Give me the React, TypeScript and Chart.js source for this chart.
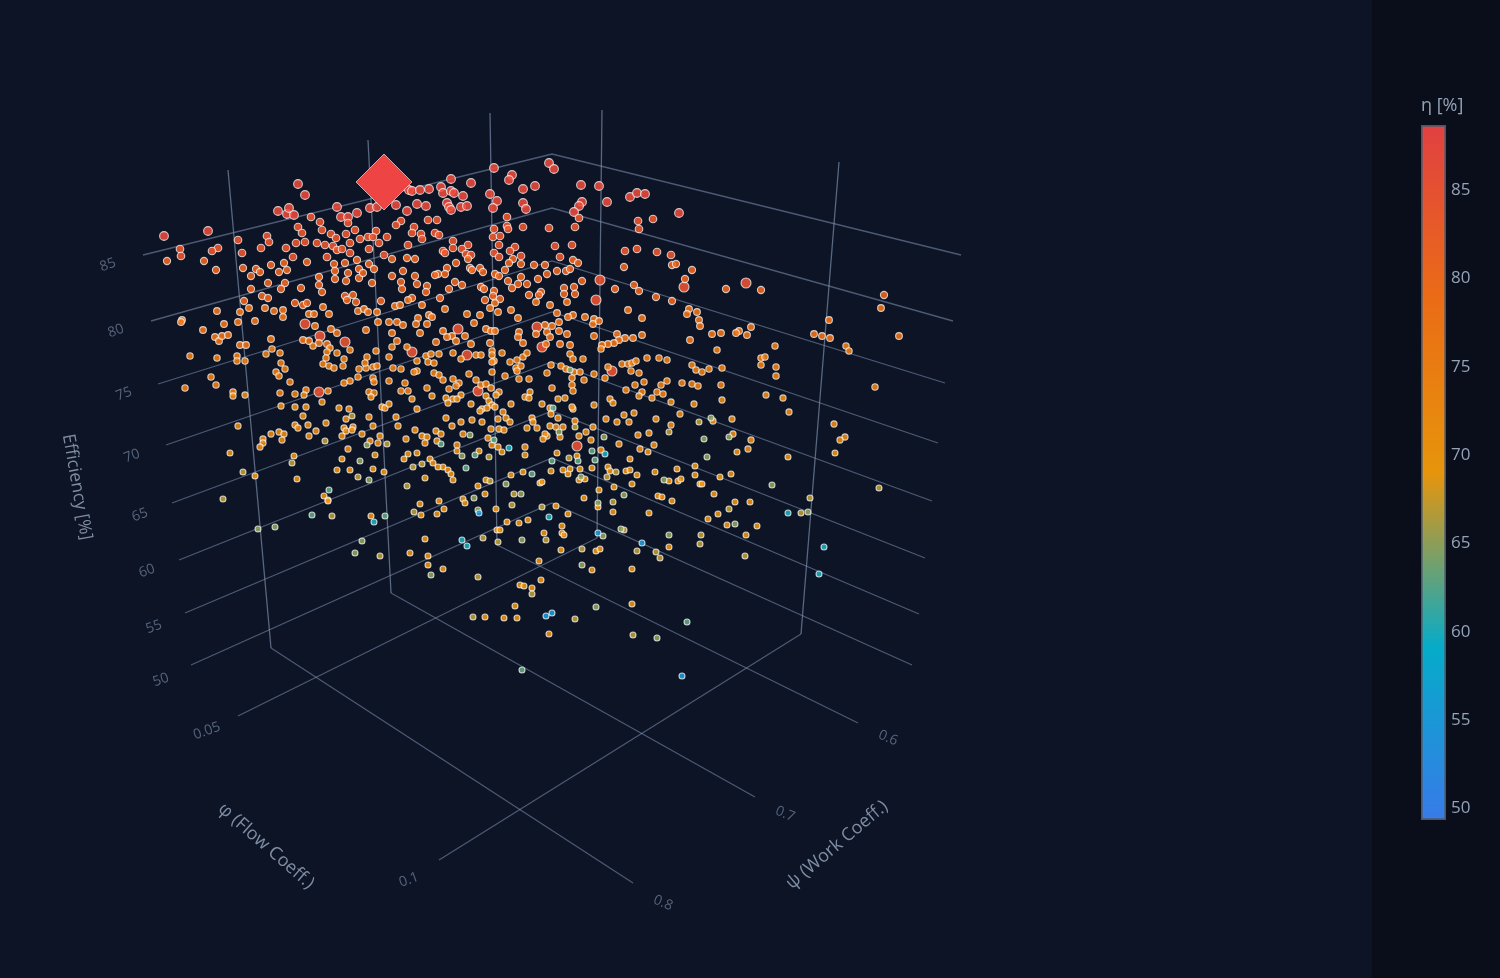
import React, { useEffect, useRef } from "react";
import { Chart, registerables } from "chart.js";

Chart.register(...registerables);

const bandEta = [85, 87, 84, 81, 78, 75, 72.5, 70.5, 67, 65, 63, 60, 55];
const bandRadius = [5, 4.4, 3.8, 3.6, 3.4, 3.2, 3.1, 3, 3, 3, 3, 3, 3];

const bandBig = [305,324,320,336,345,342,458,329,478,391,467,355,537,327,542,347,612,371,577,446,746,283,684,287,600,280,596,300,319,392,412,352];
const band87 = [298,184,305,195,164,236,208,231,278,211,287,214,289,208,294,215,337,207,357,213,341,217,348,217,370,208,377,207,396,205,407,211,409,190,494,168,512,175,509,180,549,163,554,169,451,179,471,183,535,186,581,185,599,186,412,191,420,190,429,189,441,187,443,193,451,191,454,193,463,196,490,194,497,201,523,189,523,203,526,209,493,208,417,204,426,206,447,203,449,207,451,210,461,207,467,206,582,202,579,206,607,202,630,197,637,193,645,194,679,213,574,212];
const band85 = [238,240,242,253,218,248,212,251,180,249,181,256,311,217,298,227,302,233,305,242,296,243,286,248,267,236,269,242,261,248,293,257,320,222,322,230,331,234,336,238,346,234,355,230,360,239,317,243,325,245,333,246,337,250,342,249,350,243,368,237,376,231,373,237,387,237,379,243,369,249,350,253,327,257,384,255,401,221,396,225,408,245,348,223,579,218,507,217,428,220,437,220,414,227,494,229,507,226,508,229,523,227,549,228,575,227,638,221,653,219,639,229,421,234,422,239,435,233,439,235,493,237,500,236,412,233,453,241,453,248,468,245,462,249,499,245,515,247,510,251,555,246,572,245,443,251,445,253,466,254,471,255,494,253,521,256,560,257,499,257,625,251,637,249,657,252,671,255];
const band83 = [167,261,204,261,216,270,243,268,251,276,251,289,244,301,307,262,284,263,271,265,256,269,260,272,279,272,287,270,268,283,285,283,281,289,301,288,262,296,268,298,295,303,303,305,307,303,334,264,345,263,357,260,369,264,374,269,359,269,348,273,335,271,335,279,319,277,319,285,322,292,346,281,359,278,363,273,372,283,392,276,401,282,402,289,353,295,345,296,347,300,356,302,381,301,403,271,407,258,392,259,468,259,513,259,509,263,521,264,573,260,578,263,415,259,456,263,672,265,676,264,624,267,534,265,545,265,447,268,438,274,435,275,445,274,470,268,472,270,480,268,483,272,505,270,495,274,499,276,557,271,547,274,566,271,570,269,521,277,415,276,582,281,538,279,508,281,518,284,527,284,512,288,417,284,455,282,462,285,427,286,426,292,449,289,481,287,484,289,494,291,493,296,564,288,574,287,634,285,615,289,639,291,541,292,539,295,564,294,575,294,529,295,656,297,672,301,440,298,412,298,485,300,500,299,692,270,685,279,726,289,761,290,884,295];
const band80 = [217,311,240,312,249,308,182,320,265,308,274,311,283,310,283,317,309,314,314,314,323,307,329,314,358,311,364,309,368,312,377,312,395,306,400,305,408,300,536,302,567,302,422,305,495,303,550,305,490,308,445,309,498,312,511,310,628,310,467,314,480,315,429,315,557,313,573,315,585,317,642,318,418,318,432,317,518,318,568,317,594,319,881,308,689,309,697,312,687,314,699,320,700,326,751,327,739,331,736,333,721,333,712,334,747,335,829,320,814,334,822,336,830,338,899,336,690,340,181,322,203,330,224,324,238,322,255,321,215,337,219,341,222,336,228,335,240,345,246,345,271,339,315,326,331,329,337,333,303,340,309,341,319,343,327,344,366,330,378,322,389,322,397,322,403,325,416,324,427,324,392,333,397,341,420,333,436,342,443,331,452,336,465,336,447,337,456,341,474,323,471,344,490,343,486,329,491,331,495,331,545,325,552,326,519,332,518,337,536,334,547,332,559,331,567,334,550,337,523,343,546,344,560,344,570,345,594,336,593,324,599,321,617,334,625,338,619,340,614,343,608,344,602,345,633,338,642,335,559,322];
const band77 = [190,356,217,358,237,356,237,361,245,361,266,354,272,349,280,353,281,363,285,369,276,372,279,376,211,377,185,388,216,385,233,392,290,382,280,393,295,394,306,390,328,391,313,346,330,348,350,350,327,352,337,353,326,358,344,359,323,364,329,366,334,368,343,366,359,369,366,368,367,357,365,363,373,367,377,366,376,351,389,357,393,368,401,369,392,347,407,347,417,361,426,356,431,354,439,354,428,362,434,363,417,371,414,372,434,373,439,375,358,377,350,381,344,383,373,378,374,382,389,381,405,383,369,392,374,393,401,391,408,391,427,388,453,353,461,359,476,355,481,355,492,351,502,353,492,355,494,361,492,362,510,362,517,360,523,357,527,353,516,368,521,366,517,371,519,379,529,379,505,376,492,372,469,374,443,380,453,379,459,383,449,389,456,386,476,380,481,385,486,384,491,388,499,392,551,365,547,373,561,366,566,369,574,372,580,372,594,374,570,354,573,359,583,359,601,349,647,358,659,358,667,360,622,364,628,364,632,363,636,361,608,367,631,371,639,373,692,365,696,370,702,372,709,369,605,378,584,380,572,378,572,385,644,382,635,385,667,381,661,385,682,383,692,384,698,386,552,388,573,391,626,390,642,392,657,392,663,394,717,350,775,346,846,346,849,351,761,358,765,357,722,368,761,365,776,367,776,376,721,385,875,387];
const band74 = [233,396,245,395,304,395,322,402,281,406,295,407,306,407,303,416,238,426,295,425,298,428,308,425,326,423,316,431,309,436,271,434,279,432,284,434,282,440,263,439,263,443,260,447,339,408,349,409,346,419,369,417,344,428,353,427,346,431,352,430,342,436,362,434,373,426,380,436,370,441,378,443,348,449,371,397,432,396,412,399,382,407,385,408,389,404,417,409,396,417,398,426,415,430,436,431,406,439,422,436,427,437,437,441,425,443,461,395,496,395,486,396,446,398,453,399,457,399,489,401,492,405,495,407,448,403,471,404,482,409,487,408,480,411,511,404,503,412,525,397,530,392,529,398,542,404,446,418,452,426,461,422,472,420,482,422,498,419,506,418,510,422,532,418,533,422,527,428,537,428,491,429,499,429,504,430,441,434,463,434,547,436,457,445,488,438,492,445,498,447,525,447,639,396,652,398,558,399,565,398,610,399,613,403,671,402,694,404,573,409,572,407,594,405,634,413,624,415,680,414,606,419,617,422,629,422,656,419,558,418,550,408,551,414,575,421,593,427,550,426,556,427,563,427,671,425,649,433,638,435,586,432,545,434,579,436,560,437,543,439,591,440,619,444,654,445,640,449,601,450,722,400,766,395,783,398,789,412,834,424,845,437,840,440,732,419,713,421,733,434,751,440,748,449];
const band71 = [457,451,479,451,502,452,525,455,443,467,448,470,451,474,453,480,486,480,511,475,523,472,478,486,540,483,542,482,485,494,463,499,230,453,294,456,255,476,297,479,342,459,375,455,337,470,350,470,373,469,384,472,324,496,328,500,430,459,433,463,417,453,408,454,404,459,438,467,425,478,648,452,557,453,577,456,630,459,695,466,580,469,551,471,563,470,570,469,592,468,568,474,608,467,610,471,626,471,630,470,655,472,677,469,637,475,695,475,579,480,585,479,669,481,678,481,681,479,700,484,632,484,614,487,599,490,584,498,658,496,662,497,835,453,737,452,788,457,731,474,720,477,702,484,714,494,735,502,750,502,718,514,708,519,727,525,757,526,746,535,328,501,371,516,410,553,428,556,428,565,443,569,425,539,420,504,439,501,444,509,437,514,421,515,465,503,485,617,496,509,556,506,598,507,568,514,507,522,519,523,528,520,613,512,649,513,672,501,562,526,497,530,500,530,544,533,562,533,564,535,669,547,561,550,596,551,600,549,539,561,592,570,632,569,541,580,520,585,524,586,532,588,515,606,632,604,504,618,517,618,549,634];
const band67 = [352,416,325,441,387,444,422,464,292,463,243,472,223,499,358,477,407,486,332,516,380,556,414,512,483,538,473,617,489,457,490,481,514,494,569,458,575,427,607,477,616,472,669,432,699,422,879,488,810,498,729,509,801,513,701,535,745,556,512,505,542,507,613,502,624,530,498,542,546,540,582,549,637,551,656,552,660,558,700,544,532,594,575,619,633,635,413,467,478,577];
const band65 = [367,445,360,461,369,480,470,435,462,456,258,529,275,527,362,541,355,553,431,575,478,510,506,484,521,494,474,498,570,370,604,437,704,439,707,457,559,432,581,477,664,480,624,495,711,418,729,437,772,485,808,512,735,524,598,503,603,536,621,529,669,535,522,540,582,565,596,607,657,638];
const band63 = [441,444,494,440,475,455,466,468,532,474,553,408,592,451,578,461,552,461,595,460,329,490,312,515,385,516,687,622,522,670];
const band60 = [509,448,605,454,549,517,374,522,462,540,467,546,788,513,824,547,819,574];
const band55 = [479,513,598,533,642,543,546,616,552,613,682,676];
const bandSeries = [bandBig, band87, band85, band83, band80, band77, band74, band71, band67, band65, band63, band60, band55];

const designPoint = [384, 182];

// Walls and floor of the 3-D box as seen on the view plane
const etaTicks = ["85", "80", "75", "70", "65", "60", "55", "50"];
const etaLabelX = [108, 116, 124, 132, 140, 147, 154, 161];
const etaLabelY = [265, 331, 394, 456, 515, 571, 627, 680];
const etaLeftX = [143, 151, 158, 166, 172, 179, 185, 191];
const etaLeftY = [255, 321, 384, 445, 503, 560, 613, 665];
const etaBackY = [154, 208, 261, 312, 362, 411, 458, 503];
const etaRightX = [961, 953, 945, 938, 932, 925, 919, 912];
const etaRightY = [255, 321, 383, 443, 501, 558, 614, 665];
const wallVerticals = [[228,170,271,648],[368,140,391,593],[490,113,497,545],[602,110,597,538],[839,162,801,634]];
const floorLines = [[271,648,633,883],[391,593,755,797],[497,545,858,723],[238,716,597,538],[439,860,801,634]];

const colorTicks = [50, 55, 60, 65, 70, 75, 80, 85];
const colorMin = 49.35;
const colorMax = 88.68;
const colorStops: [number, number[]][] = [
  [49.35, [59, 130, 246]],
  [59.1, [6, 182, 212]],
  [69, [245, 158, 11]],
  [78.8, [249, 115, 22]],
  [88.68, [239, 68, 68]],
];

const FONT = '"Open Sans", "Noto Sans", sans-serif';
const sceneTexts: [string, number, number, number, number, string][] = [
  ...etaTicks.map((t, i): [string, number, number, number, number, string] => [t, etaLabelX[i], etaLabelY[i], -20, 14, "#56657d"]),
  ["0.05", 207, 731, -20, 14, "#56657d"],
  ["0.1", 409, 880, -20, 14, "#56657d"],
  ["0.6", 888, 738, 22, 14, "#56657d"],
  ["0.7", 785, 814, 22, 14, "#56657d"],
  ["0.8", 663, 903, 22, 14, "#56657d"],
  ["Efficiency [%]", 77, 487, 80, 17.6, "#7f8da3"],
  ["φ (Flow Coeff.)", 266, 846, 41, 18, "#7f8da3"],
  ["ψ (Work Coeff.)", 837, 845, -40, 18, "#7f8da3"],
];

function colorFor(eta: number, alpha = 0.86) {
  for (let i = 1; i < colorStops.length; i++) {
    if (eta <= colorStops[i][0]) {
      const [a, ca] = colorStops[i - 1];
      const [b, cb] = colorStops[i];
      const t = Math.max(0, (eta - a) / (b - a));
      const c = ca.map((v, k) => Math.round(v + (cb[k] - v) * t));
      return `rgba(${c[0]},${c[1]},${c[2]},${alpha})`;
    }
  }
  return "rgba(239,68,68,1)";
}

function pairs(flat: number[]) {
  const out: { x: number; y: number }[] = [];
  for (let i = 0; i + 1 < flat.length; i += 2) out.push({ x: flat[i], y: flat[i + 1] });
  return out;
}

function lineSet(flat: number[], color: string) {
  return {
    type: "line" as const,
    data: pairs(flat),
    borderColor: color,
    borderWidth: 1.3,
    pointRadius: 0,
    fill: false,
    tension: 0,
    order: 50,
  };
}

const sceneTextPlugin = {
  id: "sceneText",
  afterDraw(chart: any) {
    const ctx = chart.ctx;
    for (const [text, x, y, rot, size, color] of sceneTexts) {
      ctx.save();
      ctx.translate(x, y);
      ctx.rotate((rot * Math.PI) / 180);
      ctx.font = `${size}px ${FONT}`;
      ctx.fillStyle = color;
      ctx.textAlign = "center";
      ctx.textBaseline = "middle";
      ctx.fillText(text, 0, 0);
      ctx.restore();
    }
  },
};

const barTitlePlugin = {
  id: "barTitle",
  afterDraw(chart: any) {
    const ctx = chart.ctx;
    ctx.save();
    ctx.font = `18px ${FONT}`;
    ctx.fillStyle = "#94a3b8";
    ctx.textAlign = "left";
    ctx.textBaseline = "middle";
    ctx.fillText("η [%]", 21, 16);
    ctx.restore();
  },
};

export default function App() {
  const sceneRef = useRef<HTMLCanvasElement>(null);
  const barRef = useRef<HTMLCanvasElement>(null);

  useEffect(() => {
    document.body.style.margin = "0";
    document.body.style.background = "#0c1426";

    const datasets: any[] = [];
    etaTicks.forEach((_, i) => {
      datasets.push(lineSet([etaLeftX[i], etaLeftY[i], 552, etaBackY[i], etaRightX[i], etaRightY[i]], "rgba(130,148,178,0.55)"));
    });
    wallVerticals.forEach((l) => datasets.push(lineSet(l, "rgba(130,148,178,0.65)")));
    floorLines.forEach((l) => datasets.push(lineSet(l, "rgba(130,148,178,0.55)")));
    bandSeries.forEach((flat, i) => {
      datasets.push({
        type: "scatter" as const,
        data: pairs(flat),
        backgroundColor: colorFor(bandEta[i]),
        borderColor: "rgba(255,255,255,0.72)",
        borderWidth: 1.1,
        pointRadius: bandRadius[i],
        order: 20 - i,
      });
    });
    datasets.push({
      type: "scatter" as const,
      data: pairs(designPoint),
      pointStyle: "rectRot",
      backgroundColor: "#ef4444",
      borderColor: "rgba(255,255,255,0.6)",
      borderWidth: 1,
      pointRadius: 28,
      order: 0,
    });

    const scene = new Chart(sceneRef.current!, {
      type: "scatter",
      data: { datasets },
      options: {
        animation: false,
        responsive: false,
        layout: { padding: 0, autoPadding: false },
        plugins: { legend: { display: false }, tooltip: { enabled: false } },
        scales: {
          x: { type: "linear", display: false, min: 0, max: 1500 },
          y: { type: "linear", display: false, min: 0, max: 978, reverse: true },
        },
      },
      plugins: [sceneTextPlugin],
    } as any);

    const bar = new Chart(barRef.current!, {
      type: "bar",
      data: {
        labels: ["η [%]"],
        datasets: [
          {
            data: [[colorMin, colorMax]],
            backgroundColor: (c: any) => {
              const area = c.chart.chartArea;
              if (!area) return "#f97316";
              const g = c.chart.ctx.createLinearGradient(0, area.bottom, 0, area.top);
              colorStops.forEach(([v]) => g.addColorStop((v - colorMin) / (colorMax - colorMin), colorFor(v, 0.94)));
              return g;
            },
            borderColor: "#4b5768",
            borderWidth: 2,
            borderSkipped: false,
            barPercentage: 1,
            categoryPercentage: 1,
          },
        ],
      },
      options: {
        animation: false,
        responsive: false,
        layout: { padding: { left: 21, top: 35, bottom: 30, right: 0 }, autoPadding: false },
        plugins: { legend: { display: false }, tooltip: { enabled: false } },
        scales: {
          x: { display: false },
          y: {
            type: "linear",
            position: "right",
            min: colorMin,
            max: colorMax,
            grid: { display: false, drawTicks: false },
            border: { display: false },
            afterBuildTicks: (s: any) => {
              s.ticks = colorTicks.map((value) => ({ value }));
            },
            afterFit: (s: any) => {
              s.width = 54;
            },
            ticks: { color: "#94a3b8", padding: 5, font: { size: 17, family: FONT } },
          },
        },
      },
      plugins: [barTitlePlugin],
    } as any);

    return () => {
      scene.destroy();
      bar.destroy();
    };
  }, []);

  return (
    <div style={{ position: "relative", width: 1500, height: 978, overflow: "hidden", background: "linear-gradient(to right, #0c1426 0, #0c1426 1372px, #090e1a 1372px, #090e1a 100%)" }}>
      <canvas ref={sceneRef} width={1500} height={978} style={{ position: "absolute", left: 0, top: 0, display: "block" }} />
      <canvas ref={barRef} width={100} height={760} style={{ position: "absolute", left: 1400, top: 90, display: "block" }} />
    </div>
  );
}
